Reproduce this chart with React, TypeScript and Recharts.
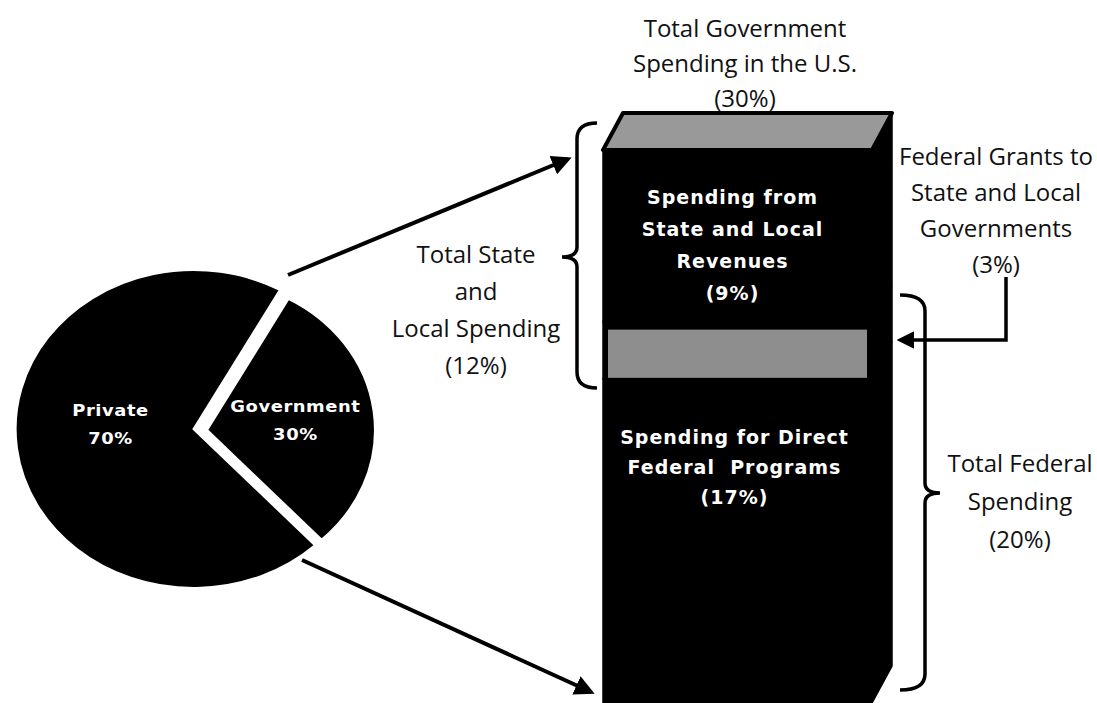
import React from "react"
import { Bar, BarChart, Cell, Pie, PieChart, XAxis, YAxis } from "recharts"

const pieNames = ["Government", "Private"]
const pieValues = [30, 70]

const barNames = ["Direct Federal Programs", "Federal Grants", "State and Local Revenues"]
const barKeys = ["direct", "grants", "stateLocal"]
const barValues = [17, 3, 9]
const barTotal = 29

const pieData = pieNames.map((name, i) => ({ name, value: pieValues[i] }))
const barRow: { [key: string]: any } = { name: "Government" }
barKeys.forEach((k, i) => (barRow[k] = barValues[i]))
const barData = [barRow]

const RADIAN = Math.PI / 180
const boldFont = "'DejaVu Sans', Verdana, sans-serif"
const textFont = "'Open Sans', sans-serif"

// side face offset of the 3D column
const DX = 20
const DY = -37

const makeLabel = (show: string, ratio: number, dy1: number, dy2: number) => (props: any) => {
  const { cx, cy, midAngle, outerRadius, name, value } = props
  if (name !== show) return <g />
  const r = outerRadius * ratio
  const x = cx + r * Math.cos(-midAngle * RADIAN)
  const y = cy + r * Math.sin(-midAngle * RADIAN)
  return (
    <text x={x} textAnchor="middle" dominantBaseline="central" fill="#fff" fontFamily={boldFont} fontWeight="bold" fontSize={16} letterSpacing={0.5}>
      <tspan x={x} y={y + dy1}>{name}</tspan>
      <tspan x={x} y={y + dy2}>{value}%</tspan>
    </text>
  )
}

const sideFace = (x: number, y: number, w: number, h: number) =>
  `${x + w},${y} ${x + w + DX},${y + DY} ${x + w + DX},${y + h + DY} ${x + w},${y + h}`

const WhiteLines = ({ x, y, step, lines }: { x: number; y: number; step: number; lines: string[] }) => (
  <text textAnchor="middle" dominantBaseline="central" fill="#fff" fontFamily={boldFont} fontWeight="bold" fontSize={19} letterSpacing={1}>
    {lines.map((l, i) => (
      <tspan key={i} x={x} y={y + i * step} style={{ whiteSpace: "pre" }}>
        {l}
      </tspan>
    ))}
  </text>
)

// front rect + side face, stroked so the stacked pieces join without seams
const Block = ({ x, y, width, height }: any) => (
  <g>
    <polygon points={sideFace(x, y, width, height)} fill="#000" stroke="#000" strokeWidth={1.5} />
    <rect x={x} y={y} width={width} height={height} fill="#000" stroke="#000" strokeWidth={1.5} />
  </g>
)

const DirectShape = (props: any) => {
  const { x, y, width } = props
  return (
    <g>
      <Block {...props} />
      <WhiteLines x={x + width / 2 - 3} y={y + 58} step={30} lines={["Spending for Direct", "Federal  Programs", "(17%)"]} />
    </g>
  )
}

const GrantShape = (props: any) => {
  const { x, y, width, height } = props
  return (
    <g>
      <Block {...props} />
      <rect x={x + 5} y={y + 8} width={width - 10} height={height - 9} fill="#8e8e8e" />
    </g>
  )
}

const StateShape = (props: any) => {
  const { x, y, width } = props
  const cap = `${x},${y} ${x + width},${y} ${x + width + DX},${y + DY} ${x + DX},${y + DY}`
  return (
    <g>
      <Block {...props} />
      <polygon points={cap} fill="#999" stroke="#000" strokeWidth={4} strokeLinejoin="round" />
      <WhiteLines x={x + width / 2 - 5} y={y + 47} step={32} lines={["Spending from", "State and Local", "Revenues", "(9%)"]} />
    </g>
  )
}

const shapes = [DirectShape, GrantShape, StateShape]

const Lines = ({ x, y, step, lines }: { x: number; y: number; step: number; lines: string[] }) => (
  <text textAnchor="middle" dominantBaseline="central" fill="#111" fontFamily={textFont} fontSize={24}>
    {lines.map((l, i) => (
      <tspan key={i} x={x} y={y + i * step}>
        {l}
      </tspan>
    ))}
  </text>
)

const brace = (x: number, y1: number, y2: number, ym: number, tipX: number, endX: number) =>
  `M${endX},${y1} Q${x},${y1} ${x},${y1 + 16} L${x},${ym - 10} Q${x},${ym} ${tipX},${ym} ` +
  `Q${x},${ym} ${x},${ym + 10} L${x},${y2 - 16} Q${x},${y2} ${endX},${y2}`

export default function App() {
  return (
    <div style={{ position: "absolute", left: 0, top: 0, width: 1097, height: 703, background: "#fff", overflow: "hidden" }}>
      <div style={{ position: "absolute", left: -12, top: 224, width: 400, height: 400, transform: "scaleX(1.12)", transformOrigin: "200px 200px" }}>
        <PieChart width={400} height={400}>
          <Pie
            data={pieData}
            dataKey="value"
            nameKey="name"
            cx={200}
            cy={200}
            outerRadius={159}
            startAngle={-47}
            endAngle={313}
            labelLine={false}
            label={makeLabel("Private", 0.47, -28, 0)}
            isAnimationActive={false}
          >
            {pieData.map((d) => (
              <Cell key={d.name} fill={d.name === "Private" ? "#000" : "none"} stroke={d.name === "Private" ? "#fff" : "none"} strokeWidth={2} />
            ))}
          </Pie>
          <Pie
            data={pieData}
            dataKey="value"
            nameKey="name"
            cx={212}
            cy={201}
            outerRadius={150}
            startAngle={-47}
            endAngle={313}
            labelLine={false}
            label={makeLabel("Government", 0.53, -14, 14)}
            isAnimationActive={false}
          >
            {pieData.map((d) => (
              <Cell key={d.name} fill={d.name === "Government" ? "#000" : "none"} stroke={d.name === "Government" ? "#fff" : "none"} strokeWidth={2} />
            ))}
          </Pie>
        </PieChart>
      </div>

      <div style={{ position: "absolute", left: 0, top: 0 }}>
        <BarChart width={1097} height={703} data={barData} margin={{ top: 150, right: 225, bottom: 0, left: 603 }} barCategoryGap={0}>
          <XAxis dataKey="name" hide />
          <YAxis hide domain={[0, barTotal]} />
          {barKeys.map((k, i) => (
            <Bar key={k} dataKey={k} name={barNames[i]} stackId="gov" fill="#000" shape={shapes[i]} isAnimationActive={false} />
          ))}
        </BarChart>
      </div>

      <svg width={1097} height={703} style={{ position: "absolute", left: 0, top: 0, pointerEvents: "none" }}>
        <defs>
          <marker id="head" viewBox="0 0 10 10" refX="8" refY="5" markerWidth="5" markerHeight="5" orient="auto">
            <path d="M0,0 L10,5 L0,10 z" fill="#000" />
          </marker>
        </defs>
        <line x1={288} y1={275} x2={568} y2={159} stroke="#000" strokeWidth={4} markerEnd="url(#head)" />
        <line x1={302} y1={560} x2={591} y2={692} stroke="#000" strokeWidth={4} markerEnd="url(#head)" />
        <path d={brace(577, 123, 388, 257, 562, 597)} fill="none" stroke="#000" strokeWidth={3.5} />
        <path d={brace(925, 295, 690, 493, 940, 900)} fill="none" stroke="#000" strokeWidth={3.5} />
        <polyline points="1006,277 1006,340 900,340" fill="none" stroke="#000" strokeWidth={3.5} markerEnd="url(#head)" />

        <Lines x={745} y={27} step={35} lines={["Total Government", "Spending in the U.S.", "(30%)"]} />
        <Lines x={476} y={253} step={37} lines={["Total State", "and", "Local Spending", "(12%)"]} />
        <Lines x={996} y={155} step={36} lines={["Federal Grants to", "State and Local", "Governments", "(3%)"]} />
        <Lines x={1020} y={462} step={38} lines={["Total Federal", "Spending", "(20%)"]} />
      </svg>
    </div>
  )
}
